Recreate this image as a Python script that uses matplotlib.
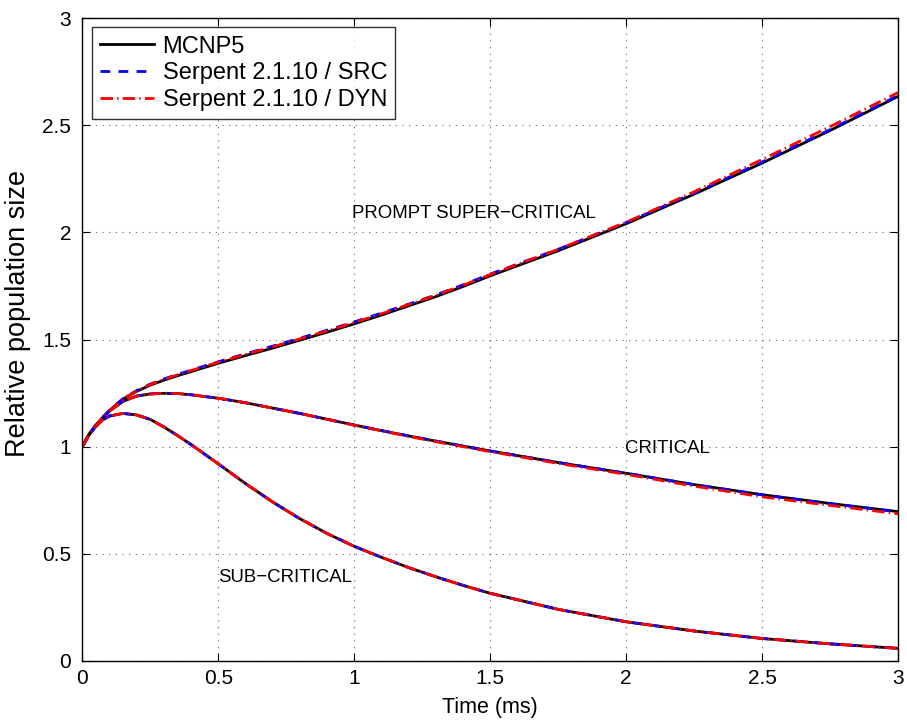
import matplotlib
matplotlib.use("Agg")
import matplotlib.pyplot as plt
from matplotlib.ticker import FuncFormatter

plt.rcParams['font.family'] = ['Liberation Sans', 'DejaVu Sans']

# time points (ms)
t = [0.0, 0.025, 0.05, 0.075, 0.1, 0.15, 0.2, 0.25, 0.3, 0.35, 0.4, 0.5, 0.6, 0.7, 0.8,
     0.9, 1.0, 1.1, 1.2, 1.3, 1.4, 1.5, 1.75, 2.0, 2.25, 2.5, 2.75, 3.0]

# prompt super-critical
sup_mcnp = [1.0, 1.058, 1.10, 1.135, 1.168, 1.222, 1.258, 1.287, 1.31, 1.331, 1.35, 1.389, 1.425, 1.46, 1.497,
            1.534, 1.573, 1.614, 1.657, 1.7, 1.747, 1.797, 1.914, 2.04, 2.178, 2.323, 2.475, 2.634]
sup_src = [1.0, 1.058, 1.10, 1.137, 1.17, 1.225, 1.262, 1.292, 1.316, 1.337, 1.357, 1.396, 1.433, 1.469, 1.506,
           1.543, 1.582, 1.623, 1.665, 1.708, 1.755, 1.805, 1.921, 2.045, 2.183, 2.328, 2.479, 2.638]
sup_dyn = [1.0, 1.058, 1.10, 1.136, 1.169, 1.224, 1.26, 1.29, 1.314, 1.335, 1.355, 1.394, 1.43, 1.466, 1.503,
           1.54, 1.579, 1.62, 1.663, 1.706, 1.753, 1.803, 1.921, 2.047, 2.189, 2.34, 2.493, 2.652]

# critical
crit_mcnp = [1.0, 1.058, 1.10, 1.135, 1.166, 1.212, 1.236, 1.246, 1.249, 1.248, 1.242, 1.226, 1.205, 1.18, 1.155,
             1.128, 1.101, 1.075, 1.05, 1.026, 1.003, 0.98, 0.926, 0.876, 0.823, 0.776, 0.735, 0.697]
crit_src = [1.0, 1.058, 1.10, 1.135, 1.166, 1.212, 1.236, 1.246, 1.249, 1.248, 1.242, 1.226, 1.205, 1.18, 1.155,
            1.128, 1.101, 1.075, 1.05, 1.026, 1.003, 0.98, 0.926, 0.876, 0.823, 0.775, 0.734, 0.696]
crit_dyn = [1.0, 1.058, 1.10, 1.135, 1.166, 1.212, 1.236, 1.246, 1.249, 1.248, 1.242, 1.226, 1.205, 1.18, 1.155,
            1.128, 1.10, 1.074, 1.048, 1.023, 1.0, 0.977, 0.922, 0.871, 0.816, 0.766, 0.726, 0.687]

# sub-critical
sub_mcnp = [1.0, 1.055, 1.095, 1.125, 1.143, 1.155, 1.148, 1.127, 1.092, 1.052, 1.01, 0.92, 0.828, 0.742, 0.664,
            0.595, 0.535, 0.484, 0.436, 0.393, 0.353, 0.316, 0.241, 0.183, 0.14, 0.105, 0.08, 0.059]
sub_src = sub_mcnp
sub_dyn = sub_mcnp

fig = plt.figure(figsize=(9.07, 7.21), dpi=100)
ax = fig.add_axes([82.3 / 907, 60 / 721, 815.7 / 907, 643 / 721])

lw = 2.0
src_ls = (0, (3.5, 3))
dyn_ls = (0, (4.5, 1.5, 0.5, 1.5))
ax.plot(t, sup_mcnp, color='black', lw=lw, label='MCNP5')
ax.plot(t, sup_src, color='blue', lw=lw, ls=src_ls, label='Serpent 2.1.10 / SRC')
ax.plot(t, sup_dyn, color='red', lw=lw, ls=dyn_ls, label='Serpent 2.1.10 / DYN')
for m, s, d in [(crit_mcnp, crit_src, crit_dyn), (sub_mcnp, sub_src, sub_dyn)]:
    ax.plot(t, m, color='black', lw=lw)
    ax.plot(t, s, color='blue', lw=lw, ls=src_ls)
    ax.plot(t, d, color='red', lw=lw, ls=dyn_ls)

ax.set_xlim(0, 3)
ax.set_ylim(0, 3)
ax.set_xticks([0, 0.5, 1, 1.5, 2, 2.5, 3])
ax.set_yticks([0, 0.5, 1, 1.5, 2, 2.5, 3])
fmt = FuncFormatter(lambda v, p: '%g' % v)
ax.xaxis.set_major_formatter(fmt)
ax.yaxis.set_major_formatter(fmt)
ax.tick_params(direction='in', top=True, right=True, labelsize=15, length=6)
ax.tick_params(axis='y', pad=8)
ax.tick_params(axis='x', pad=6)
ax.grid(True, ls=(0, (1, 5)), color='black', lw=0.8, alpha=0.6)
for sp in ax.spines.values():
    sp.set_linewidth(1.0)

ax.set_xlabel('Time (ms)', fontsize=15.5, labelpad=6)
ax.set_ylabel('Relative population size', fontsize=19.5)
ax.yaxis.set_label_coords(-0.063, 0.541)

ax.text(1.44, 2.09, 'PROMPT SUPER\u2212CRITICAL', fontsize=13.4, ha='center', va='center')
ax.text(2.15, 0.99, 'CRITICAL', fontsize=13.4, ha='center', va='center')
ax.text(0.745, 0.39, 'SUB\u2212CRITICAL', fontsize=13.4, ha='center', va='center')

leg = ax.legend(loc='upper left', fontsize=17, frameon=True, fancybox=False,
                edgecolor='black', handlelength=2.3, borderaxespad=0.4,
                labelspacing=0.2, handletextpad=0.35, borderpad=0.35)
leg.get_frame().set_linewidth(1.0)

fig.savefig('out.png', dpi=100)
